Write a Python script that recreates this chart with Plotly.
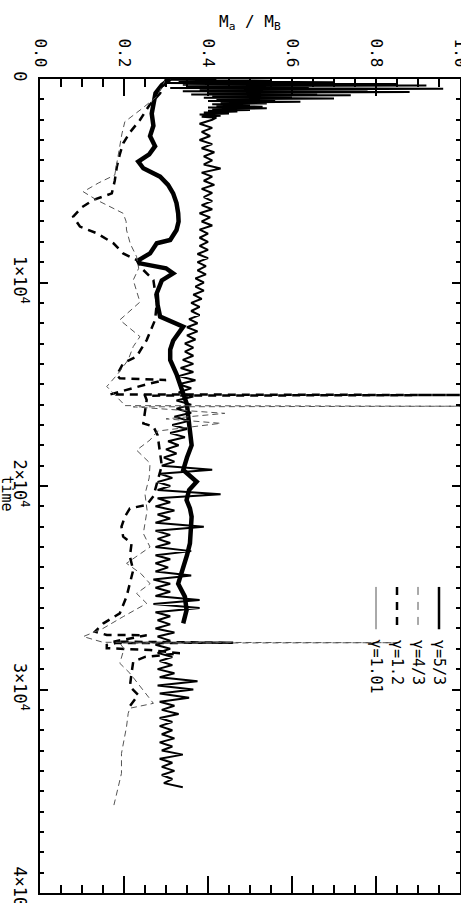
"""
Accreted mass ratio M_a / M_B against time for four adiabatic indices,
drawn rotated (time runs down the page) to match the original figure.
"""
import plotly.graph_objects as go

# --- gamma = 5/3 : thick solid, oscillating band -------------------------
h_time = [0, 40, 80, 120, 160, 200, 240, 280, 320, 360,
          400, 440, 480, 520, 560, 600, 640, 680, 720, 760,
          800, 840, 880, 920, 960, 1000, 1040, 1080, 1120, 1160,
          1200, 1240, 1280, 1320, 1360, 1400, 1440, 1480, 1520, 1560,
          1600, 1650, 1700, 1750, 1800, 1850, 1900,
          2000, 2200, 2400, 2600, 2800, 3000, 3200, 3400, 3600, 3800,
          4000, 4200, 4400, 4600, 4800, 5000, 5200, 5400, 5600, 5800,
          6000, 6200, 6400, 6600, 6800, 7000, 7200, 7400, 7600, 7800,
          8000, 8200, 8400, 8600, 8800, 9000, 9200, 9400, 9600, 9800,
          10000, 10200, 10400, 10600, 10800, 11000, 11200, 11400, 11600, 11800,
          12000, 12200, 12400, 12600, 12800, 13000, 13200, 13400, 13600, 13800,
          14000, 14200, 14400, 14600, 14800, 15000, 15200, 15400, 15600, 15800,
          16000, 16200, 16400, 16600, 16800, 17000, 17200, 17400, 17600, 17800,
          18000, 18200, 18400, 18600, 18800, 19000, 19200, 19400, 19600, 19800,
          20000, 20200, 20400, 20600, 20800, 21000, 21200, 21400, 21600, 21800,
          22000, 22200, 22400, 22600, 22800, 23000, 23200, 23400, 23600, 23800,
          24000, 24200, 24400, 24600, 24800, 25000, 25200, 25400, 25600, 25800,
          26000, 26200, 26400, 26600, 26800, 27000, 27200, 27400, 27600, 27800,
          28000, 28200, 28400, 28600, 28800, 29000, 29200, 29400, 29600, 29800,
          30000, 30200, 30400, 30600, 30800, 31000, 31200, 31400, 31600, 31800,
          32000, 32200, 32400, 32600, 32800, 33000, 33200, 33400, 33600, 33800,
          34000, 34200, 34400, 34600, 34800]
h_vals = [0.42, 0.31, 0.55, 0.33, 0.70, 0.30, 0.85, 0.34, 0.92, 0.35,
          0.64, 0.31, 0.96, 0.38, 0.78, 0.34, 0.88, 0.40, 0.66, 0.36,
          0.74, 0.41, 0.60, 0.39, 0.70, 0.42, 0.56, 0.40, 0.62, 0.43,
          0.54, 0.41, 0.50, 0.42, 0.53, 0.40, 0.54, 0.41, 0.50, 0.40,
          0.47, 0.39, 0.45, 0.38, 0.43, 0.385, 0.42,
          0.41, 0.38, 0.41, 0.385, 0.405, 0.38, 0.41, 0.385, 0.415, 0.39,
          0.41, 0.39, 0.43, 0.385, 0.41, 0.39, 0.415, 0.385, 0.41, 0.39,
          0.41, 0.385, 0.41, 0.38, 0.405, 0.385, 0.41, 0.38, 0.40, 0.38,
          0.40, 0.38, 0.40, 0.375, 0.40, 0.375, 0.395, 0.375, 0.395, 0.37,
          0.39, 0.37, 0.39, 0.365, 0.385, 0.36, 0.38, 0.36, 0.38, 0.355,
          0.375, 0.35, 0.375, 0.35, 0.37, 0.345, 0.365, 0.345, 0.365, 0.34,
          0.365, 0.335, 0.365, 0.33, 0.37, 0.33, 0.36, 0.33, 0.365, 0.325,
          0.36, 0.325, 0.36, 0.32, 0.355, 0.315, 0.35, 0.31, 0.345, 0.305,
          0.33, 0.30, 0.325, 0.295, 0.32, 0.29, 0.41, 0.285, 0.315, 0.28,
          0.31, 0.28, 0.43, 0.28, 0.31, 0.275, 0.32, 0.28, 0.31, 0.275,
          0.39, 0.275, 0.31, 0.28, 0.31, 0.275, 0.36, 0.275, 0.31, 0.275,
          0.305, 0.275, 0.36, 0.27, 0.31, 0.275, 0.31, 0.275, 0.38, 0.27,
          0.38, 0.275, 0.31, 0.28, 0.31, 0.275, 0.32, 0.28, 0.31, 0.275,
          0.31, 0.28, 0.315, 0.285, 0.315, 0.28, 0.32, 0.285, 0.375, 0.28,
          0.365, 0.285, 0.355, 0.285, 0.32, 0.29, 0.33, 0.285, 0.315, 0.285,
          0.315, 0.29, 0.32, 0.285, 0.315, 0.29, 0.34, 0.285, 0.315, 0.29,
          0.32, 0.29, 0.315, 0.295, 0.34]

# --- gamma = 1.01 : heavy wandering line -----------------------------------
w_time = [0, 300, 700, 1200, 1700, 2300, 2800, 3300, 3700, 4060,
          4390, 4800, 5200, 5620, 6100, 6600, 7000, 7420, 7910, 8075,
          8570, 8900, 9060, 9300, 9550, 9900, 10530, 11100, 11680, 12170,
          12500, 12860, 13300, 13810, 14500, 15450, 16000, 16590, 17300, 18000,
          18600, 19210, 19790, 20200, 20690, 21100, 21510, 22200, 22820, 23400,
          23960, 24400, 24800, 25440, 26100, 26750]
w_vals = [0.31, 0.29, 0.275, 0.27, 0.266, 0.27, 0.262, 0.274, 0.26, 0.234,
          0.246, 0.286, 0.305, 0.317, 0.325, 0.329, 0.33, 0.325, 0.31, 0.278,
          0.262, 0.235, 0.238, 0.30, 0.317, 0.29, 0.278, 0.28, 0.286, 0.341,
          0.33, 0.317, 0.31, 0.31, 0.325, 0.341, 0.35, 0.353, 0.358, 0.361,
          0.35, 0.341, 0.373, 0.355, 0.349, 0.357, 0.361, 0.36, 0.357, 0.35,
          0.341, 0.335, 0.329, 0.345, 0.349, 0.341]

# --- gamma = 1.2 : thick dashed -------------------------------------------
c_time = [0, 704, 1300, 2015, 2600, 3160, 3700, 4310, 5000, 5620,
          5945, 6300, 6760, 7250, 7580, 8075, 8570, 8895, 9220, 9880,
          11020, 11840, 12830, 13640, 13970, 14550, 14710, 14790, 15000, 15500,
          15530, 15560, 15770, 16430, 16920, 17080, 17500, 19000, 20500, 20930,
          21100, 21510, 22000, 22490, 22820, 23470, 24130, 24780, 25440, 26260,
          26750, 27160, 27320, 27330, 27650, 27700, 27720, 27810, 27970, 28060,
          28220, 28400, 28630, 29200, 29860, 30270, 30920]
c_vals = [0.30, 0.286, 0.26, 0.238, 0.215, 0.198, 0.19, 0.183, 0.178, 0.171,
          0.127, 0.10, 0.079, 0.095, 0.135, 0.175, 0.198, 0.23, 0.238, 0.27,
          0.278, 0.274, 0.254, 0.23, 0.198, 0.183, 0.19, 0.30, 0.254, 0.167,
          1.0, 0.25, 0.254, 0.25, 0.246, 0.27, 0.28, 0.29, 0.27, 0.254,
          0.214, 0.202, 0.194, 0.198, 0.218, 0.214, 0.222, 0.214, 0.206, 0.19,
          0.151, 0.131, 0.159, 0.254, 0.175, 0.46, 0.18, 0.159, 0.159, 0.262,
          0.333, 0.25, 0.222, 0.218, 0.214, 0.234, 0.21]

# --- gamma = 4/3 : thin dashed --------------------------------------------
t_time = [0, 868, 1500, 2100, 2700, 3325, 4000, 4720, 5100, 5540,
          5945, 6300, 6600, 7000, 7420, 8100, 8730, 9300, 9880, 10960,
          11840, 12660, 13150, 13800, 14500, 15110, 15950, 16050, 16080, 16110,
          16430, 16700, 16920, 17300, 17740, 18240, 18880, 19600, 20400, 21200,
          22330, 23000, 23800, 24300, 24800, 25280, 25770, 26420, 27000, 27400,
          27680, 27700, 27720, 28000, 28710, 29200, 29900, 30680, 30920, 31170,
          31830, 32500, 33140, 34120, 34900, 35680]
t_vals = [0.30, 0.278, 0.24, 0.202, 0.195, 0.19, 0.185, 0.178, 0.14, 0.103,
          0.135, 0.17, 0.198, 0.205, 0.206, 0.215, 0.23, 0.235, 0.222, 0.238,
          0.19, 0.238, 0.222, 0.21, 0.185, 0.159, 0.198, 0.20, 1.0, 0.222,
          0.44, 0.30, 0.43, 0.28, 0.262, 0.23, 0.262, 0.26, 0.25, 0.255,
          0.246, 0.262, 0.206, 0.24, 0.262, 0.23, 0.254, 0.198, 0.15, 0.103,
          0.15, 0.85, 0.19, 0.20, 0.19, 0.214, 0.24, 0.27, 0.214, 0.21,
          0.206, 0.20, 0.194, 0.194, 0.185, 0.176]

ratio_ticks = [0.0, 0.2, 0.4, 0.6, 0.8, 1.0]
ratio_labels = ['0.0', '0.2', '0.4', '0.6', '0.8', '1.0']
time_ticks = [0, 10000, 20000, 30000, 40000]
time_labels = ['0', '1×10<sup>4</sup>', '2×10<sup>4</sup>', '3×10<sup>4</sup>', '4×10<sup>4</sup>']
legend_names = ['γ=5/3', 'γ=4/3', 'γ=1.2', 'γ=1.01']

FONT = 'DejaVu Sans Mono'

fig = go.Figure()

fig.add_trace(go.Scatter(x=h_vals, y=h_time, mode='lines', name=legend_names[0],
                         line=dict(color='black', width=2)))
fig.add_trace(go.Scatter(x=w_vals, y=w_time, mode='lines', name=legend_names[3],
                         line=dict(color='black', width=4.5)))
fig.add_trace(go.Scatter(x=c_vals, y=c_time, mode='lines', name=legend_names[2],
                         line=dict(color='black', width=2.5, dash='8px,6px')))
fig.add_trace(go.Scatter(x=t_vals, y=t_time, mode='lines', name=legend_names[1],
                         line=dict(color='#555555', width=1, dash='6px,4px')))

# hand-made legend, rotated like the rest of the figure
legend_x = [0.95, 0.90, 0.85, 0.80]
legend_style = [dict(width=2.5, dash='solid', color='black'),
                dict(width=1, dash='8px,7px', color='#555555'),
                dict(width=2.5, dash='8px,7px', color='black'),
                dict(width=1, dash='solid', color='#555555')]
for lx, style, name in zip(legend_x, legend_style, legend_names):
    fig.add_shape(type='line', xref='paper', yref='paper', x0=lx, x1=lx,
                  y0=0.376, y1=0.324, line=style)
    fig.add_annotation(x=lx, y=0.314, xref='paper', yref='paper', text=name,
                       textangle=90, showarrow=False, xanchor='center', yanchor='top',
                       font=dict(family=FONT, size=15, color='black'))

fig.add_annotation(x=0.5, y=1.0688, xref='paper', yref='paper',
                   text='M<sub>a</sub> / M<sub>B</sub>', showarrow=False,
                   xanchor='center', yanchor='middle',
                   font=dict(family=FONT, size=16, color='black'))
fig.add_annotation(x=-0.079, y=0.491, xref='paper', yref='paper', text='time',
                   textangle=90, showarrow=False, xanchor='center', yanchor='middle',
                   font=dict(family=FONT, size=15, color='black'))

fig.update_xaxes(range=[0, 1], side='top', showline=True, linewidth=2, linecolor='black',
                 mirror='allticks', ticks='inside', ticklen=17, tickwidth=2, tickcolor='black',
                 tickvals=ratio_ticks, ticktext=ratio_labels, tickangle=90,
                 tickfont=dict(family=FONT, size=16, color='black'), ticklabelstandoff=4,
                 ticklabeloverflow='allow',
                 minor=dict(tickmode='linear', tick0=0, dtick=0.05, ticks='inside',
                            ticklen=8, tickwidth=2, tickcolor='black'),
                 showgrid=False, zeroline=False, automargin=False)
fig.update_yaxes(range=[40000, 0], showline=True, linewidth=2, linecolor='black',
                 mirror='allticks', ticks='inside', ticklen=8, tickwidth=2, tickcolor='black',
                 tickvals=time_ticks, ticktext=time_labels, tickangle=90,
                 tickfont=dict(family=FONT, size=17, color='black'), ticklabelstandoff=4,
                 ticklabeloverflow='allow',
                 minor=dict(tickmode='linear', tick0=0, dtick=1000, ticks='inside',
                            ticklen=4, tickwidth=2, tickcolor='black'),
                 showgrid=False, zeroline=False, automargin=False)

fig.update_layout(width=461, height=903, margin=dict(l=40, r=1, t=79, b=10),
                  paper_bgcolor='white', plot_bgcolor='white',
                  showlegend=False, hovermode=False)

# the page body has a default 8px margin; drop it so the figure sits at (0, 0)
fig.write_html("out.html", config={'displayModeBar': False},
               post_script="document.body.style.margin='0';")
